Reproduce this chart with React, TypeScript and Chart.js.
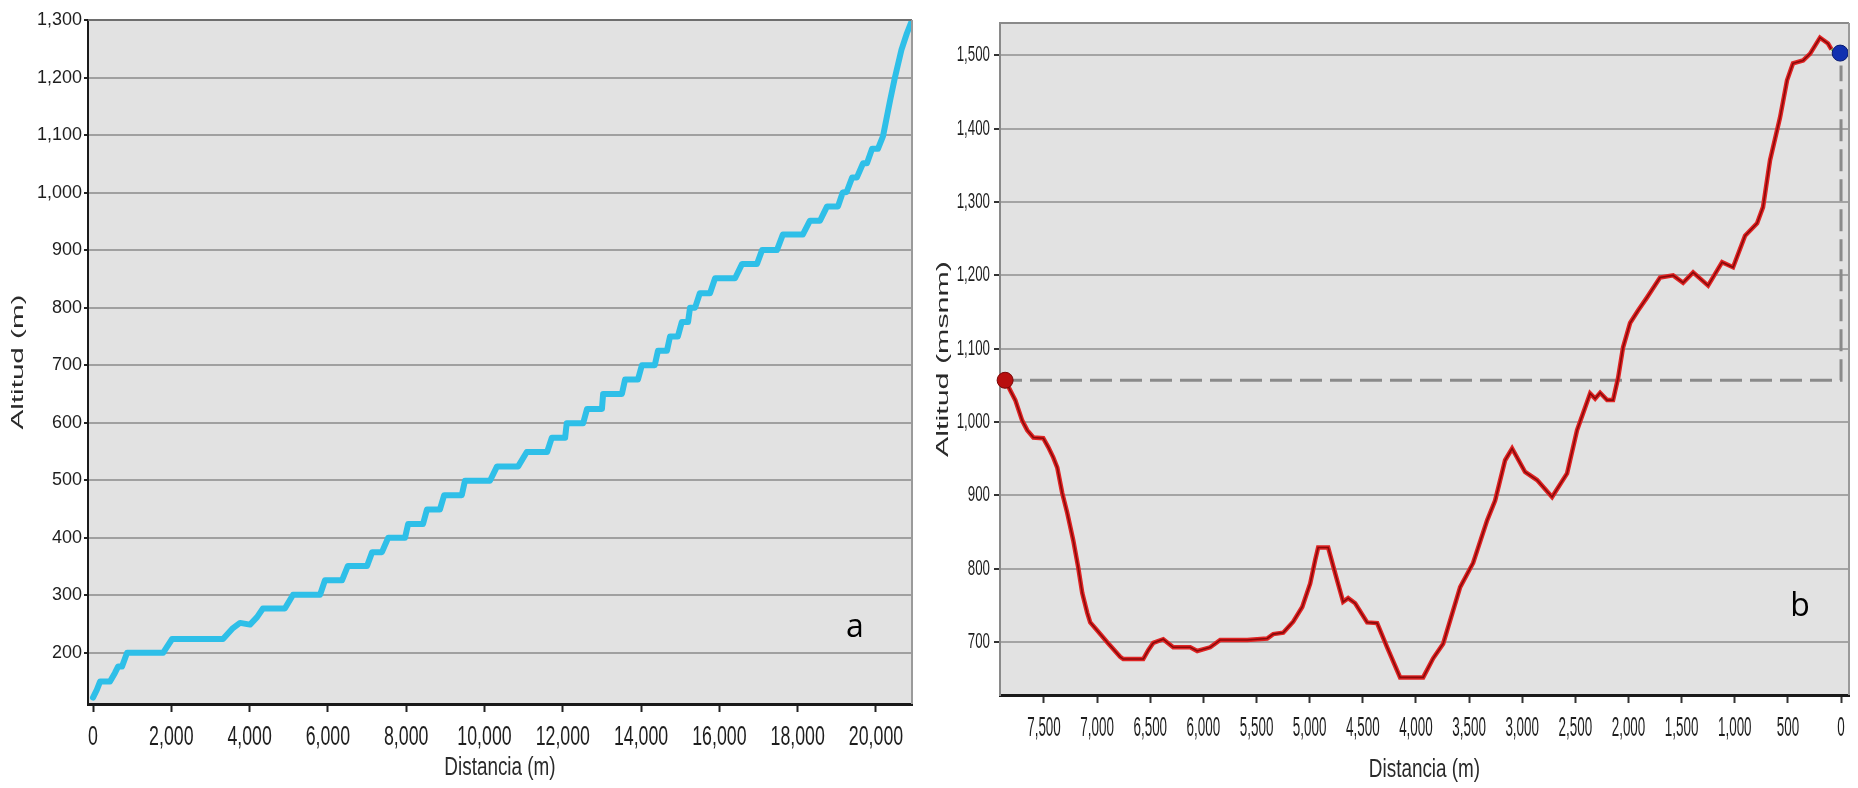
import React, { useEffect, useRef } from "react";
import { Chart, registerables } from "chart.js";

Chart.register(...registerables);

// ---------- Chart a: cumulative profile ----------
const distA = [
  0, 100, 180, 434, 560, 640, 740, 870, 1790, 2020, 3320, 3575, 3755, 4010, 4190, 4340, 4900,
  5110, 5800, 5925, 6360, 6510, 7000, 7130, 7380, 7540, 7970, 8050, 8430, 8530, 8860, 8970, 9420,
  9500, 10140, 10320, 10860, 11080, 11600, 11720, 12060, 12100, 12520, 12620, 13000, 13030, 13510,
  13590, 13920, 14020, 14350, 14430, 14660, 14740, 14940, 15040, 15200, 15250, 15380, 15500, 15760,
  15890, 16400, 16580, 16960, 17090, 17470, 17620, 18130, 18310, 18570, 18750, 19030, 19150, 19250,
  19390, 19510, 19670, 19770, 19900, 20050, 20180, 20360, 20480, 20650, 20790, 20900,
];
const altA = [
  122, 136, 150, 150, 165, 176, 176, 200, 200, 224, 224, 243, 252, 249, 262, 277, 277,
  301, 301, 326, 326, 351, 351, 375, 375, 400, 400, 424, 424, 449, 449, 474, 474,
  499, 499, 524, 524, 549, 549, 574, 574, 599, 599, 624, 624, 650, 650,
  675, 675, 700, 700, 725, 725, 750, 750, 775, 775, 800, 800, 825, 825,
  851, 851, 876, 876, 900, 900, 927, 927, 951, 951, 976, 976, 1000, 1001,
  1026, 1026, 1051, 1051, 1076, 1076, 1098, 1160, 1199, 1248, 1277, 1296,
];
const xTicksA = [0, 2000, 4000, 6000, 8000, 10000, 12000, 14000, 16000, 18000, 20000];
const yTicksA = [200, 300, 400, 500, 600, 700, 800, 900, 1000, 1100, 1200, 1300];

// ---------- Chart b: route profile (distance measured backwards) ----------
const distB = [
  7865, 7817, 7770, 7705, 7658, 7600, 7507, 7460, 7413, 7375, 7328, 7281, 7225, 7178, 7140, 7093,
  7065, 6999, 6905, 6783, 6754, 6566, 6519, 6472, 6378, 6284, 6124, 6058, 5936, 5842, 5588, 5400,
  5343, 5249, 5155, 5070, 4995, 4948, 4920, 4826, 4741, 4685, 4638, 4572, 4459, 4365, 4271, 4149,
  4120, 3932, 3838, 3744, 3584, 3462, 3330, 3255, 3161, 3095, 2973, 2860, 2719, 2578, 2484, 2361,
  2314, 2267, 2201, 2145, 2098, 2051, 1985, 1910, 1825, 1703, 1580, 1486, 1392, 1251, 1119, 1016,
  903, 790, 734, 668, 574, 508, 452, 357, 292, 198, 122, 90,
];
const altB = [
  1057, 1043, 1030, 1002, 989, 979, 978, 966, 952, 938, 903, 876, 839, 802, 767, 740,
  727, 716, 700, 680, 677, 677, 689, 699, 704, 693, 693, 688, 693, 703, 703, 705,
  711, 713, 728, 748, 780, 812, 829, 829, 784, 755, 760, 753, 727, 726, 693, 652,
  652, 652, 678, 698, 775, 808, 866, 893, 948, 964, 932, 921, 898, 930, 989, 1039,
  1032, 1040, 1030, 1030, 1060, 1102, 1135, 1152, 1170, 1197, 1200, 1190, 1204, 1186, 1218, 1211,
  1254, 1271, 1293, 1357, 1415, 1466, 1489, 1493, 1502, 1524, 1516, 1508,
];
const tailDistB = [90, 20];
const tailAltB = [1508, 1503];
const refDistB = [7914, 0, 0];
const refAltB = [1057, 1057, 1486];
const startDistB = [7866];
const startAltB = [1057];
const endDistB = [8];
const endAltB = [1503];
const xTicksB = [0, 500, 1000, 1500, 2000, 2500, 3000, 3500, 4000, 4500, 5000, 5500, 6000, 6500, 7000, 7500];
const yTicksB = [700, 800, 900, 1000, 1100, 1200, 1300, 1400, 1500];

const SANS = '"Liberation Sans", Arial, sans-serif';
const fmt = (v: number) => Number(v).toLocaleString("en-US");
const pts = (xs: number[], ys: number[]) => xs.map((x, i) => ({ x, y: ys[i] }));

function drawText(
  ctx: CanvasRenderingContext2D,
  text: string,
  x: number,
  y: number,
  size: number,
  sx: number,
  sy: number,
  align: CanvasTextAlign,
  color: string,
  rot = 0
) {
  ctx.save();
  ctx.translate(x, y);
  if (rot) ctx.rotate(rot);
  ctx.scale(sx, sy);
  ctx.font = `${size}px ${SANS}`;
  ctx.fillStyle = color;
  ctx.textAlign = align;
  ctx.textBaseline = "middle";
  ctx.fillText(text, 0, 0);
  ctx.restore();
}

const framePlugin = {
  id: "frame",
  beforeDraw(chart: any, _a: any, opts: any) {
    const { ctx, chartArea: a } = chart;
    ctx.save();
    ctx.fillStyle = opts.bg;
    ctx.fillRect(a.left, a.top, a.right - a.left, a.bottom - a.top);
    ctx.restore();
  },
  afterDraw(chart: any, _a: any, opts: any) {
    const { ctx, chartArea: a } = chart;
    ctx.save();
    ctx.lineWidth = 2;
    ctx.strokeStyle = opts.topColor;
    ctx.beginPath();
    ctx.moveTo(a.left, a.top);
    ctx.lineTo(a.right, a.top);
    ctx.stroke();
    ctx.strokeStyle = opts.rightColor;
    ctx.beginPath();
    ctx.moveTo(a.right, a.top);
    ctx.lineTo(a.right, a.bottom);
    ctx.stroke();
    ctx.restore();

    // tick labels, positioned by the chart's own scales
    const xs = chart.scales.x;
    const ys = chart.scales.y;
    const t = opts.text;
    xs.ticks.forEach((tk: any) => {
      drawText(ctx, fmt(tk.value), xs.getPixelForValue(tk.value), a.bottom + t.xTickDy, t.xTickSize, t.xTickSx, t.xTickSy, "center", "#1e1e1e");
    });
    ys.ticks.forEach((tk: any) => {
      drawText(ctx, fmt(tk.value), a.left - t.yTickDx, ys.getPixelForValue(tk.value), t.yTickSize, t.yTickSx, t.yTickSy, "right", "#1e1e1e");
    });
    // axis titles
    drawText(ctx, t.xTitle, (a.left + a.right) / 2, t.xTitleY, t.xTitleSize, t.xTitleSx, t.xTitleSy, "center", "#2a2a2a");
    drawText(ctx, t.yTitle, t.yTitleX, (a.top + a.bottom) / 2, t.yTitleSize, t.yTitleStretch, 1, "center", "#2a2a2a", -Math.PI / 2);

    // panel letter
    ctx.save();
    ctx.fillStyle = "#000";
    ctx.font = '32px "Open Sans", "Noto Sans", sans-serif';
    ctx.textAlign = "center";
    ctx.textBaseline = "middle";
    ctx.fillText(opts.letter, a.right + opts.letterDx, a.bottom + opts.letterDy);
    ctx.restore();
  },
};

function makeTicks(list: number[]) {
  return (s: any) => {
    s.ticks = list.map((v) => ({ value: v }));
  };
}

export default function App() {
  const refA = useRef<HTMLCanvasElement>(null);
  const refB = useRef<HTMLCanvasElement>(null);

  useEffect(() => {
    const chartA = new Chart(refA.current as HTMLCanvasElement, {
      type: "line",
      data: {
        datasets: [
          {
            data: pts(distA, altA),
            borderColor: "#2ebfe8",
            borderWidth: 6,
            pointRadius: 0,
            tension: 0,
            borderJoinStyle: "round",
            borderCapStyle: "round",
          } as any,
        ],
      },
      options: {
        animation: false,
        responsive: false,
        devicePixelRatio: 1,
        layout: { padding: { top: 20, right: 13, left: 0, bottom: 0 } },
        plugins: {
          legend: { display: false },
          tooltip: { enabled: false },
          frame: {
            bg: "#e2e2e2",
            topColor: "#6e6e6e",
            rightColor: "#9a9a9a",
            letter: "a",
            letterDx: -57,
            letterDy: -76,
            text: {
              xTickDy: 33, xTickSize: 24, xTickSx: 0.74, xTickSy: 1.15,
              yTickDx: 6, yTickSize: 18, yTickSx: 1.0, yTickSy: 1.05,
              xTitle: "Distancia (m)", xTitleY: 768, xTitleSize: 21, xTitleSx: 0.9, xTitleSy: 1.2,
              yTitle: "Altitud (m)", yTitleX: 19, yTitleSize: 16, yTitleStretch: 1.85,
            },
          },
        } as any,
        scales: {
          x: {
            type: "linear",
            min: -128,
            max: 20920,
            afterBuildTicks: makeTicks(xTicksA),
            afterFit: (s: any) => {
              s.height = 84;
            },
            grid: { display: true, drawOnChartArea: false, drawTicks: true, tickLength: 8, tickColor: "#222", tickWidth: 2 },
            border: { display: true, color: "#1a1a1a", width: 3 },
            ticks: { display: false, autoSkip: false },
          },
          y: {
            type: "linear",
            min: 111,
            max: 1300,
            afterBuildTicks: makeTicks(yTicksA),
            afterFit: (s: any) => {
              s.width = 88;
            },
            grid: { color: "#a0a0a0", lineWidth: 2, tickLength: 4, tickColor: "#222", tickWidth: 2 },
            border: { display: true, color: "#1a1a1a", width: 2 },
            ticks: { display: false, autoSkip: false },
          },
        },
      } as any,
      plugins: [framePlugin],
    });

    const chartB = new Chart(refB.current as HTMLCanvasElement, {
      type: "line",
      data: {
        datasets: [
          {
            data: pts(refDistB, refAltB),
            borderColor: "#8a8a8a",
            borderWidth: 3,
            borderDash: [22, 8],
            pointRadius: 0,
            order: 6,
          },
          {
            data: pts(distB, altB),
            borderColor: "#e02424",
            borderWidth: 4.5,
            pointRadius: 0,
            order: 5,
          },
          {
            data: pts(distB, altB),
            borderColor: "#8a0a0a",
            borderWidth: 1.6,
            pointRadius: 0,
            order: 4,
          },
          {
            data: pts(tailDistB, tailAltB),
            borderColor: "#7ccf4a",
            borderWidth: 2.5,
            pointRadius: 0,
            order: 3,
          },
          {
            data: pts(startDistB, startAltB),
            showLine: false,
            pointRadius: 8,
            pointBackgroundColor: "#b80e0e",
            pointBorderColor: "#7a0505",
            pointBorderWidth: 1,
            clip: false,
            order: 2,
          },
          {
            data: pts(endDistB, endAltB),
            showLine: false,
            pointRadius: 8,
            pointBackgroundColor: "#1030b0",
            pointBorderColor: "#071a70",
            pointBorderWidth: 1,
            clip: false,
            order: 1,
          },
        ] as any,
      },
      options: {
        animation: false,
        responsive: false,
        devicePixelRatio: 1,
        layout: { padding: { top: 23, right: 9, left: 0, bottom: 0 } },
        plugins: {
          legend: { display: false },
          tooltip: { enabled: false },
          frame: {
            bg: "#e2e2e2",
            topColor: "#8a8a8a",
            rightColor: "#9a9a9a",
            letter: "b",
            letterDx: -49,
            letterDy: -88,
            text: {
              xTickDy: 33, xTickSize: 24, xTickSx: 0.56, xTickSy: 1.18,
              yTickDx: 10, yTickSize: 19, yTickSx: 0.7, yTickSy: 1.15,
              xTitle: "Distancia (m)", xTitleY: 770, xTitleSize: 21, xTitleSx: 0.9, xTitleSy: 1.2,
              yTitle: "Altitud (msnm)", yTitleX: 19, yTitleSize: 16, yTitleStretch: 1.9,
            },
          },
        } as any,
        scales: {
          x: {
            type: "linear",
            reverse: true,
            min: -75,
            max: 7914,
            afterBuildTicks: makeTicks(xTicksB),
            afterFit: (s: any) => {
              s.height = 93;
            },
            grid: { display: true, drawOnChartArea: false, drawTicks: true, tickLength: 8, tickColor: "#333", tickWidth: 2 },
            border: { display: true, color: "#1a1a1a", width: 3 },
            ticks: { display: false, autoSkip: false },
          },
          y: {
            type: "linear",
            min: 628,
            max: 1544,
            afterBuildTicks: makeTicks(yTicksB),
            afterFit: (s: any) => {
              s.width = 75;
            },
            grid: { color: "#a4a4a4", lineWidth: 2, tickLength: 6, tickColor: "#333", tickWidth: 2 },
            border: { display: true, color: "#8a8a8a", width: 2 },
            ticks: { display: false, autoSkip: false },
          },
        },
      } as any,
      plugins: [framePlugin],
    });

    return () => {
      chartA.destroy();
      chartB.destroy();
    };
  }, []);

  return (
    <div style={{ position: "fixed", left: 0, top: 0, width: 1858, height: 788, background: "#fff" }}>
      <canvas ref={refA} width={925} height={788} style={{ position: "absolute", left: 0, top: 0 }} />
      <canvas ref={refB} width={933} height={788} style={{ position: "absolute", left: 925, top: 0 }} />
    </div>
  );
}
